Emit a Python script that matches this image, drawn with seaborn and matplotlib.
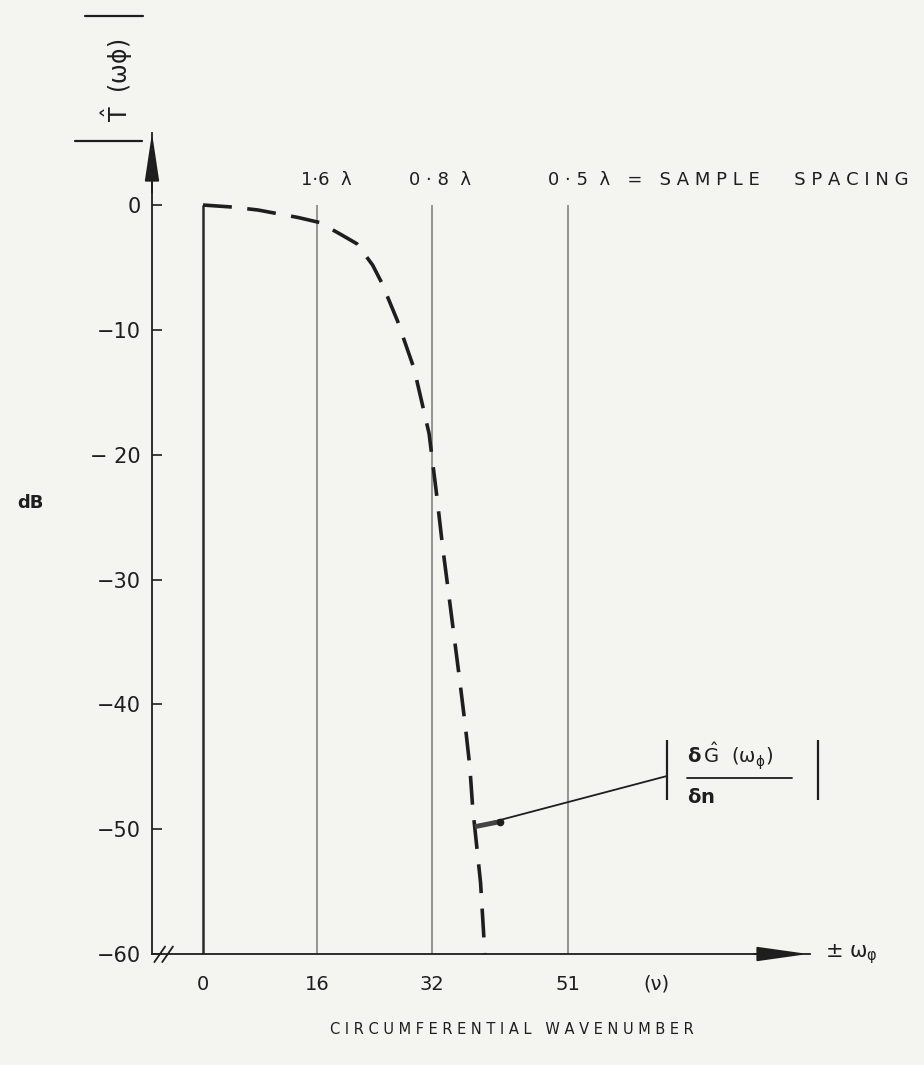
import matplotlib
matplotlib.use("Agg")
import matplotlib.pyplot as plt
import seaborn as sns
import pandas as pd
from matplotlib.lines import Line2D

# Aperture response |T(w_phi)| in dB against circumferential wavenumber
wavenumber = [0.0, 4.05, 7.7, 13.3, 16.3, 19.4, 21.5, 23.7, 25.0, 27.2, 29.5,
              31.6, 32.7, 33.5, 34.4, 35.2, 36.0, 36.7, 37.3, 37.7, 38.8, 39.4]
response_db = [0.0, -0.16, -0.4, -1.0, -1.4, -2.4, -3.1, -4.8, -6.25, -9.3, -13.1,
               -18.3, -23.4, -27.4, -31.4, -35.0, -38.6, -41.9, -45.0, -48.3, -54.3, -60.0]

# reference wavenumbers (sample spacings in wavelengths)
ref_wavenumbers = [0, 16, 32, 51]
spacing_labels = ["1·6  λ", "0 · 8  λ",
                  "0 · 5  λ   =   S A M P L E      S P A C I N G"]
spacing_label_x = [17.2, 33.1, 48.2]

y_ticks = [0, -10, -20, -30, -40, -50, -60]
y_tick_labels = ["0", "−10", "− 20", "−30", "−40", "−50", "−60"]
x_ticks = [0, 16, 32, 51, 63.4]
x_tick_labels = ["0", "16", "32", "51", "(ν)"]

# point of the curve that the gradient label refers to
pointer_from = (38.0, -49.8)
pointer_to = (64.8, -45.75)

sns.set_theme(style="white")
plt.rcParams["font.family"] = ["DejaVu Sans"]
plt.rcParams["mathtext.fontset"] = "dejavusans"
plt.rcParams["mathtext.default"] = "regular"

paper = "#f4f4f1"
ink = "#1e1e1e"
grey = "#8c8c8c"

W, H = 924, 1065
fig = plt.figure(figsize=(W / 100, H / 100), dpi=100, facecolor=paper)
ax = fig.add_axes([152 / W, 1 - 954 / H, (810 - 152) / W, (954 - 133) / H])
ax.set_facecolor(paper)

xmin, xmax = -7.13, 84.85
ymin, ymax = -60.0, 5.77
ax.set_xlim(xmin, xmax)
ax.set_ylim(ymin, ymax)

# vertical reference lines
ax.vlines(ref_wavenumbers[0], -60, 0, color="#2a2a2a", lw=1.8, zorder=2)
ax.vlines(ref_wavenumbers[1:], -60, 0, color=grey, lw=1.3, zorder=2)

# dashed response curve
df = pd.DataFrame({"nu": wavenumber, "db": response_db})
sns.lineplot(data=df, x="nu", y="db", ax=ax, color=ink, lw=2.6,
             linestyle=(0, (8, 4.3)), sort=False, zorder=3)

# spines and ticks
for s in ["top", "right"]:
    ax.spines[s].set_visible(False)
for s in ["left", "bottom"]:
    ax.spines[s].set_color(ink)
    ax.spines[s].set_linewidth(1.3)
ax.set_yticks(y_ticks)
ax.set_yticklabels(y_tick_labels)
ax.tick_params(axis="y", direction="in", length=7, width=1.2, color=ink,
               labelsize=15, labelcolor=ink, pad=8, left=True)
ax.set_xticks(x_ticks)
ax.set_xticklabels(x_tick_labels)
ax.tick_params(axis="x", length=0, labelsize=14, labelcolor=ink, pad=15)
ax.set_xlabel("")
ax.set_ylabel("")

# axis arrows
ax.annotate("", xy=(84.6, ymin), xytext=(77.0, ymin),
            arrowprops=dict(arrowstyle="-|>,head_length=3.2,head_width=0.45",
                            color=ink, lw=1.3, mutation_scale=10,
                            shrinkA=0, shrinkB=0), annotation_clip=False)
ax.annotate("", xy=(xmin, ymax), xytext=(xmin, 1.0),
            arrowprops=dict(arrowstyle="-|>,head_length=3.0,head_width=0.45",
                            color=ink, lw=1.3, mutation_scale=10,
                            shrinkA=0, shrinkB=0), annotation_clip=False)

# axis break marks
for dx in (0.0, 1.1):
    ax.plot([-6.8 + dx, -5.3 + dx], [-60.65, -59.4], color=ink, lw=1.3,
            clip_on=False, zorder=4)

ax.text(86.9, ymin, "± ω$_{φ}$", fontsize=15, color=ink, ha="left",
        va="center", clip_on=False)

# spacing labels above the reference lines
ax.text(spacing_label_x[0], 2.0, spacing_labels[0], fontsize=13, color=ink,
        ha="center", va="center")
ax.text(spacing_label_x[1], 2.0, spacing_labels[1], fontsize=13, color=ink,
        ha="center", va="center")
ax.text(spacing_label_x[2], 2.0, spacing_labels[2], fontsize=13, color=ink,
        ha="left", va="center", clip_on=False)

# pointer to the gradient term
ax.plot([pointer_from[0], pointer_to[0]], [pointer_from[1], pointer_to[1]],
        color=ink, lw=1.3, zorder=4)
ax.plot([pointer_from[0], 41.5], [pointer_from[1], -49.4], color="#444444",
        lw=3.5, solid_capstyle="butt", zorder=4)
ax.plot([41.5], [-49.4], marker="o", ms=4.5, color=ink, zorder=5)

# |dG/dn| label
ax.vlines([64.84, 85.94], -47.7, -42.85, color=ink, lw=1.6, clip_on=False)
ax.text(67.6, -44.15, r"$\mathbf{\delta}\,\hat{\mathrm{G}}\ \ (\omega_{\phi})$",
        fontsize=14, color=ink, ha="left", va="center", clip_on=False)
ax.plot([67.6, 82.3], [-45.9, -45.9], color=ink, lw=1.3, clip_on=False)
ax.text(67.7, -47.45, r"$\mathbf{\delta n}$", fontsize=14, color=ink,
        ha="left", va="center", clip_on=False)

# y-axis titles
fig.text(30 / W, 1 - 503 / H, "dB", fontsize=13, fontweight="bold",
         color=ink, ha="center", va="center")
fig.text(117 / W, 1 - 80 / H, r"$\hat{\mathrm{T}}\ \ (\omega\phi)$", fontsize=17,
         color=ink, rotation=90, ha="center", va="center")
fig.add_artist(Line2D([85 / W, 143 / W], [1 - 16 / H, 1 - 16 / H],
                      color=ink, lw=1.6, transform=fig.transFigure))
fig.add_artist(Line2D([75 / W, 142 / W], [1 - 141 / H, 1 - 141 / H],
                      color=ink, lw=1.6, transform=fig.transFigure))

fig.text(512 / W, 1 - 1030 / H, "C I R C U M F E R E N T I A L   W A V E N U M B E R",
         fontsize=10.5, color=ink, ha="center", va="center")

fig.savefig("out.png", dpi=100, facecolor=paper)
